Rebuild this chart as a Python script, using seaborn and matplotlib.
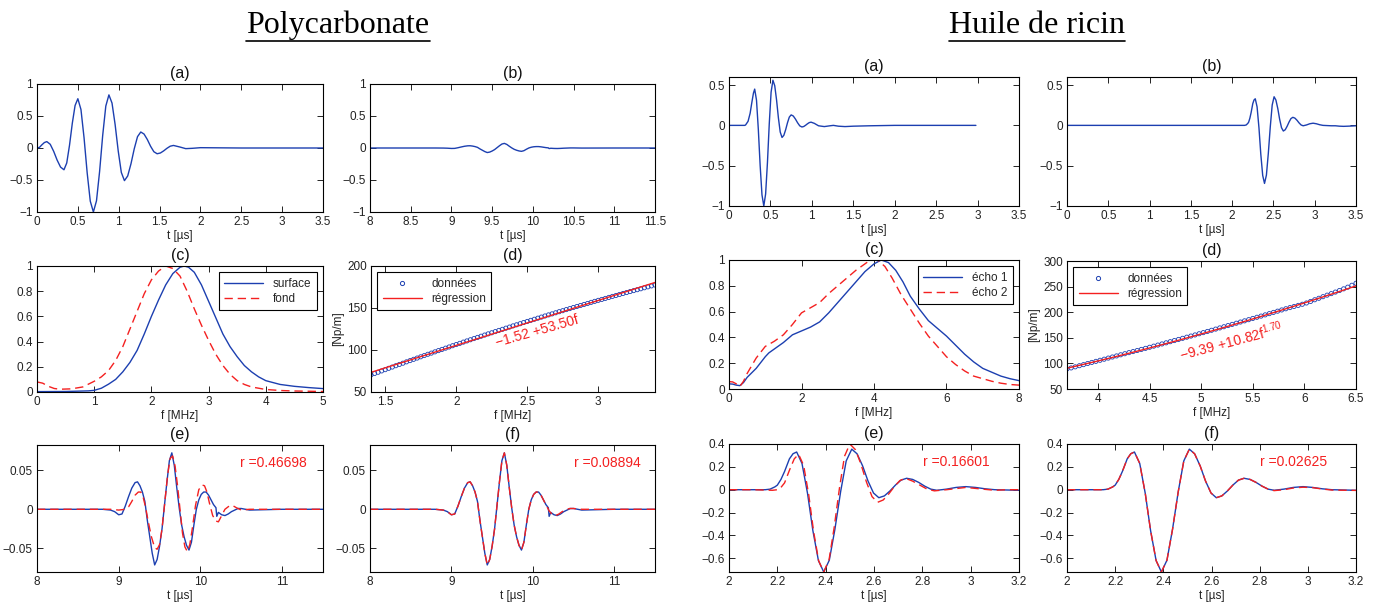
import numpy as np
import matplotlib
matplotlib.use('Agg')
import matplotlib.pyplot as plt
import seaborn as sns
from matplotlib.lines import Line2D
from matplotlib.ticker import FuncFormatter

# ---------------- data ----------------
# Polycarbonate (a): surface echo
poly_a_t = [0.0, 0.03, 0.06, 0.09, 0.12, 0.162, 0.204, 0.246, 0.288, 0.33, 0.364, 0.398, 0.432, 0.466, 0.50,
            0.538, 0.576, 0.614, 0.652, 0.69, 0.728, 0.766, 0.804, 0.842, 0.88, 0.918, 0.956, 0.994, 1.032,
            1.07, 1.11, 1.15, 1.19, 1.23, 1.27, 1.31, 1.35, 1.39, 1.43, 1.47, 1.51, 1.55, 1.59, 1.63, 1.67,
            1.75, 1.82, 1.9, 2.0, 2.5, 3.0, 3.5]
poly_a_y = [0.0, 0.01, 0.05, 0.085, 0.10, 0.058, -0.052, -0.188, -0.298, -0.34, -0.234, 0.044, 0.386, 0.664,
            0.77, 0.601, 0.158, -0.388, -0.831, -1.0, -0.825, -0.368, 0.198, 0.655, 0.83, 0.702, 0.367,
            -0.047, -0.382, -0.51, -0.437, -0.247, -0.013, 0.177, 0.25, 0.218, 0.133, 0.027, -0.058, -0.09,
            -0.078, -0.045, -0.005, 0.028, 0.04, 0.015, -0.01, -0.005, 0.005, 0.0, 0.0, 0.0]
# Polycarbonate bottom echo (b, e, f blue)
poly_b_t = [8.0, 8.5, 8.8, 8.9, 8.95, 9.0, 9.04, 9.08, 9.12, 9.16, 9.20, 9.23, 9.26, 9.29, 9.32, 9.35, 9.38,
            9.41, 9.44, 9.47, 9.50, 9.53, 9.56, 9.59, 9.62, 9.65, 9.68, 9.71, 9.74, 9.77, 9.80, 9.83, 9.86,
            9.89, 9.92, 9.95, 9.98, 10.01, 10.04, 10.07, 10.10, 10.13, 10.16, 10.19, 10.20, 10.22, 10.26,
            10.30, 10.34, 10.38, 10.42, 10.46, 10.50, 10.55, 10.60, 11.0, 11.5]
poly_b_y = [0.0, 0.0, 0.0, -0.001, -0.003, -0.007, -0.006, 0.004, 0.016, 0.027, 0.034, 0.035, 0.030, 0.022,
            0.010, -0.014, -0.035, -0.056, -0.071, -0.064, -0.047, -0.025, 0.005, 0.035, 0.062, 0.072, 0.056,
            0.028, 0.002, -0.020, -0.035, -0.046, -0.052, -0.042, -0.020, 0.000, 0.012, 0.019, 0.022, 0.022,
            0.018, 0.012, 0.006, 0.002, -0.009, -0.004, -0.007, -0.008, -0.006, -0.003, -0.001, 0.001, 0.001,
            0.000, -0.001, 0.0, 0.0]
# Polycarbonate (e): simple model (red dashed)
poly_e_t = [8.0, 8.9, 9.0, 9.08, 9.12, 9.16, 9.20, 9.24, 9.27, 9.30, 9.33, 9.36, 9.40, 9.44, 9.47, 9.50, 9.53,
            9.56, 9.60, 9.63, 9.66, 9.69, 9.72, 9.75, 9.78, 9.81, 9.84, 9.87, 9.90, 9.94, 9.98, 10.02, 10.05,
            10.08, 10.11, 10.15, 10.19, 10.22, 10.26, 10.30, 10.35, 10.39, 10.44, 10.50, 10.60, 11.5]
poly_e_y = [0.0, 0.0, -0.001, 0.0, 0.003, 0.010, 0.018, 0.022, 0.022, 0.015, 0.002, -0.015, -0.035, -0.049,
            -0.051, -0.045, -0.025, 0.005, 0.045, 0.065, 0.068, 0.055, 0.030, 0.0, -0.030, -0.048, -0.054,
            -0.045, -0.025, 0.005, 0.025, 0.031, 0.030, 0.022, 0.008, -0.008, -0.015, -0.016, -0.008, 0.0,
            0.004, 0.005, 0.002, -0.001, 0.0, 0.0]
# Polycarbonate (f): fitted model (red dashed)
poly_f_t = [8.0, 8.5, 8.8, 8.9, 8.95, 9.0, 9.04, 9.08, 9.12, 9.16, 9.20, 9.23, 9.26, 9.29, 9.32, 9.35, 9.38,
            9.41, 9.44, 9.47, 9.50, 9.53, 9.56, 9.59, 9.62, 9.65, 9.68, 9.71, 9.74, 9.77, 9.80, 9.83, 9.86,
            9.89, 9.92, 9.95, 9.98, 10.01, 10.04, 10.07, 10.10, 10.13, 10.16, 10.20, 10.24, 10.28, 10.32,
            10.36, 10.40, 10.45, 10.50, 10.60, 11.0, 11.5]
poly_f_y = [0.0, 0.0, 0.0, -0.001, -0.003, -0.007, -0.006, 0.004, 0.016, 0.027, 0.034, 0.035, 0.030, 0.022,
            0.010, -0.014, -0.035, -0.056, -0.071, -0.064, -0.047, -0.025, 0.005, 0.035, 0.062, 0.072, 0.056,
            0.028, 0.002, -0.020, -0.035, -0.046, -0.052, -0.042, -0.020, 0.000, 0.012, 0.019, 0.022, 0.022,
            0.018, 0.012, 0.006, -0.002, -0.007, -0.008, -0.006, -0.003, -0.001, 0.001, 0.001, 0.0, 0.0, 0.0]
# Polycarbonate (c): normalised spectra
poly_surf_f = [0.0, 0.5, 0.9, 1.0, 1.125, 1.25, 1.375, 1.5, 1.625, 1.75, 1.875, 2.0, 2.125, 2.25, 2.375, 2.5,
               2.575, 2.65, 2.75, 2.875, 3.0, 3.125, 3.25, 3.375, 3.5, 3.625, 3.75, 3.875, 4.0, 4.25, 4.5,
               4.75, 5.0]
poly_surf_a = [0.003, 0.004, 0.009, 0.013, 0.03, 0.062, 0.10, 0.16, 0.235, 0.33, 0.46, 0.60, 0.73, 0.85, 0.94,
               0.99, 1.0, 0.99, 0.95, 0.85, 0.72, 0.59, 0.46, 0.36, 0.28, 0.21, 0.16, 0.12, 0.09, 0.06, 0.045,
               0.035, 0.027]
poly_fond_f = [0.0, 0.1, 0.2, 0.3, 0.4, 0.6, 0.8, 1.0, 1.125, 1.25, 1.375, 1.5, 1.625, 1.75, 1.875, 2.0, 2.125,
               2.25, 2.375, 2.5, 2.625, 2.75, 2.875, 3.0, 3.125, 3.25, 3.375, 3.5, 3.625, 3.75, 4.0, 4.25,
               4.5, 5.0]
poly_fond_a = [0.08, 0.07, 0.045, 0.028, 0.022, 0.025, 0.04, 0.085, 0.12, 0.17, 0.25, 0.36, 0.50, 0.64, 0.78,
               0.89, 0.96, 1.0, 0.98, 0.92, 0.80, 0.66, 0.53, 0.41, 0.30, 0.21, 0.14, 0.09, 0.06, 0.04, 0.02,
               0.012, 0.008, 0.004]
# Polycarbonate (d): attenuation
poly_att_f = [1.400, 1.425, 1.450, 1.475, 1.500, 1.525, 1.550, 1.575, 1.600, 1.625, 1.650, 1.675, 1.700,
              1.725, 1.750, 1.775, 1.800, 1.825, 1.850, 1.875, 1.900, 1.925, 1.950, 1.975, 2.000, 2.025,
              2.050, 2.075, 2.100, 2.125, 2.150, 2.175, 2.200, 2.225, 2.250, 2.275, 2.300, 2.325, 2.350,
              2.375, 2.400, 2.425, 2.450, 2.475, 2.500, 2.525, 2.550, 2.575, 2.600, 2.625, 2.650, 2.675,
              2.700, 2.725, 2.750, 2.775, 2.800, 2.825, 2.850, 2.875, 2.900, 2.925, 2.950, 2.975, 3.000,
              3.025, 3.050, 3.075, 3.100, 3.125, 3.150, 3.175, 3.200, 3.225, 3.250, 3.275, 3.300, 3.325,
              3.350, 3.375, 3.400]
poly_att_a = [70.4, 72.0, 73.5, 75.1, 76.6, 78.2, 79.7, 81.3, 82.8, 84.3, 85.9, 87.4, 88.9, 90.4, 91.9, 93.4,
              94.9, 96.3, 97.8, 99.3, 100.7, 102.2, 103.6, 105.1, 106.5, 107.9, 109.4, 110.8, 112.2, 113.6,
              115.0, 116.4, 117.8, 119.2, 120.5, 121.9, 123.3, 124.6, 126.0, 127.3, 128.7, 130.0, 131.3,
              132.7, 134.0, 135.3, 136.6, 137.9, 139.2, 140.5, 141.8, 143.0, 144.3, 145.6, 146.8, 148.1,
              149.3, 150.6, 151.8, 153.0, 154.2, 155.4, 156.7, 157.9, 159.1, 160.2, 161.4, 162.6, 163.8,
              164.9, 166.1, 167.3, 168.4, 169.6, 170.7, 171.8, 172.9, 174.1, 175.2, 176.3, 177.4]
poly_reg_intercept, poly_reg_slope = -1.52, 53.50

# Huile de ricin (a): first echo
ric_a_t = [0.0, 0.15, 0.19, 0.20, 0.23, 0.255, 0.275, 0.295, 0.31, 0.332, 0.354, 0.376, 0.398, 0.42, 0.442,
           0.464, 0.486, 0.508, 0.53, 0.552, 0.574, 0.596, 0.618, 0.64, 0.662, 0.684, 0.706, 0.728, 0.75,
           0.776, 0.802, 0.828, 0.854, 0.88, 0.902, 0.924, 0.946, 0.968, 0.99, 1.03, 1.08, 1.15, 1.22, 1.26,
           1.32, 1.40, 1.50, 1.70, 2.0, 2.5, 2.98]
ric_a_y = [0.0, 0.0, 0.0, 0.005, 0.05, 0.15, 0.28, 0.40, 0.45, 0.312, -0.051, -0.499, -0.862, -1.0, -0.851,
           -0.461, 0.021, 0.411, 0.56, 0.492, 0.315, 0.095, -0.082, -0.15, -0.123, -0.053, 0.033, 0.103, 0.13,
           0.116, 0.078, 0.032, -0.006, -0.02, -0.014, 0.001, 0.019, 0.034, 0.04, 0.025, -0.005, -0.015,
           -0.005, 0.0, -0.01, -0.015, -0.01, -0.005, 0.0, 0.0, 0.0]
# Huile de ricin second echo (b, e, f blue)
ric_b_t = [0.0, 1.0, 2.0, 2.10, 2.15, 2.17, 2.19, 2.20, 2.215, 2.23, 2.25, 2.265, 2.28, 2.302, 2.325, 2.347,
           2.370, 2.392, 2.415, 2.438, 2.462, 2.485, 2.508, 2.530, 2.553, 2.575, 2.598, 2.62, 2.643, 2.666,
           2.689, 2.712, 2.735, 2.76, 2.785, 2.81, 2.835, 2.86, 2.90, 2.94, 2.98, 3.02, 3.06, 3.10, 3.20,
           3.25, 3.30, 3.35, 3.40, 3.45, 3.50]
ric_b_y = [0.0, 0.0, 0.0, 0.0, 0.0, 0.005, 0.025, 0.04, 0.09, 0.16, 0.27, 0.315, 0.33, 0.230, -0.033, -0.357,
           -0.620, -0.72, -0.617, -0.349, -0.016, 0.252, 0.355, 0.314, 0.208, 0.077, -0.029, -0.07, -0.054,
           -0.011, 0.041, 0.084, 0.10, 0.090, 0.064, 0.031, 0.005, -0.005, 0.005, 0.02, 0.027, 0.02, 0.008,
           0.0, -0.005, -0.005, -0.01, -0.012, -0.01, -0.008, -0.005]
# Huile de ricin (e): simple model (red dashed)
ric_e_t = [2.0, 2.1, 2.18, 2.20, 2.215, 2.23, 2.25, 2.27, 2.288, 2.309, 2.330, 2.350, 2.371, 2.392, 2.414,
           2.435, 2.457, 2.478, 2.50, 2.523, 2.546, 2.569, 2.592, 2.615, 2.638, 2.661, 2.684, 2.707, 2.73,
           2.76, 2.79, 2.82, 2.85, 2.90, 2.98, 3.05, 3.10, 3.15, 3.20]
ric_e_y = [0.0, 0.0, -0.005, 0.0, 0.02, 0.06, 0.17, 0.27, 0.31, 0.212, -0.046, -0.364, -0.622, -0.72, -0.613,
           -0.333, 0.013, 0.293, 0.40, 0.351, 0.224, 0.066, -0.061, -0.11, -0.090, -0.037, 0.027, 0.080,
           0.10, 0.075, 0.04, 0.005, -0.01, 0.0, 0.02, 0.005, -0.005, 0.0, 0.0]
# Huile de ricin (f): fitted model (red dashed)
ric_f_t = [2.0, 2.10, 2.15, 2.17, 2.19, 2.20, 2.215, 2.23, 2.25, 2.265, 2.28, 2.302, 2.325, 2.347, 2.370,
           2.392, 2.415, 2.438, 2.462, 2.485, 2.508, 2.530, 2.553, 2.575, 2.598, 2.62, 2.643, 2.666, 2.689,
           2.712, 2.735, 2.76, 2.785, 2.81, 2.835, 2.86, 2.90, 2.94, 2.98, 3.02, 3.06, 3.10, 3.20]
ric_f_y = [0.0, 0.0, 0.0, 0.005, 0.025, 0.04, 0.09, 0.16, 0.27, 0.315, 0.33, 0.230, -0.033, -0.357, -0.620,
           -0.72, -0.617, -0.349, -0.016, 0.252, 0.355, 0.314, 0.208, 0.077, -0.029, -0.07, -0.054, -0.011,
           0.041, 0.084, 0.10, 0.090, 0.064, 0.031, 0.005, -0.008, 0.0, 0.015, 0.022, 0.018, 0.006, -0.003,
           -0.006]
# Huile de ricin (c): spectra
ric_e1_f = [0.0, 0.1, 0.2, 0.3, 0.4, 0.5, 0.75, 1.0, 1.1, 1.25, 1.5, 1.75, 2.0, 2.25, 2.5, 2.75, 3.0, 3.25,
            3.5, 3.75, 4.0, 4.2, 4.4, 4.6, 4.8, 5.0, 5.25, 5.5, 5.75, 6.0, 6.25, 6.5, 6.75, 7.0, 7.25, 7.5,
            7.75, 8.0]
ric_e1_a = [0.04, 0.038, 0.03, 0.026, 0.05, 0.09, 0.16, 0.25, 0.28, 0.31, 0.36, 0.42, 0.45, 0.48, 0.52, 0.59,
            0.67, 0.75, 0.83, 0.91, 0.97, 1.0, 0.98, 0.92, 0.83, 0.72, 0.62, 0.53, 0.47, 0.41, 0.34, 0.27,
            0.21, 0.16, 0.13, 0.10, 0.08, 0.065]
ric_e2_f = [0.0, 0.1, 0.2, 0.3, 0.4, 0.5, 0.75, 1.0, 1.25, 1.5, 1.75, 2.0, 2.25, 2.5, 2.75, 3.0, 3.25, 3.5,
            3.75, 3.9, 4.1, 4.3, 4.5, 4.75, 5.0, 5.25, 5.5, 5.75, 6.0, 6.25, 6.5, 6.75, 7.0, 7.25, 7.5, 7.75,
            8.0]
ric_e2_a = [0.057, 0.055, 0.04, 0.02, 0.06, 0.12, 0.24, 0.33, 0.37, 0.42, 0.50, 0.59, 0.63, 0.67, 0.74, 0.80,
            0.86, 0.92, 0.97, 1.0, 1.0, 0.95, 0.86, 0.73, 0.62, 0.51, 0.41, 0.33, 0.25, 0.19, 0.14, 0.10,
            0.08, 0.06, 0.045, 0.035, 0.03]
# Huile de ricin (d): attenuation
ric_att_f = [3.70, 3.74, 3.78, 3.82, 3.86, 3.90, 3.94, 3.98, 4.02, 4.06, 4.10, 4.14, 4.18, 4.22, 4.26, 4.30,
             4.34, 4.38, 4.42, 4.46, 4.50, 4.54, 4.58, 4.62, 4.66, 4.70, 4.74, 4.78, 4.82, 4.86, 4.90, 4.94,
             4.98, 5.02, 5.06, 5.10, 5.14, 5.18, 5.22, 5.26, 5.30, 5.34, 5.38, 5.42, 5.46, 5.50, 5.54, 5.58,
             5.62, 5.66, 5.70, 5.74, 5.78, 5.82, 5.86, 5.90, 5.94, 5.98, 6.02, 6.06, 6.10, 6.14, 6.18, 6.22,
             6.26, 6.30, 6.34, 6.38, 6.42, 6.46, 6.50]
ric_att_a = [89.2, 91.2, 93.3, 95.5, 97.6, 99.8, 101.9, 104.0, 106.1, 108.2, 110.4, 112.5, 114.6, 116.8, 118.9,
             121.0, 123.1, 125.2, 127.3, 129.4, 131.5, 133.7, 135.8, 138.0, 140.2, 142.4, 144.6, 146.8, 149.0,
             151.2, 153.4, 155.6, 157.9, 160.1, 162.4, 164.7, 167.0, 169.3, 171.6, 173.9, 176.2, 178.5, 180.8,
             183.1, 185.4, 187.8, 190.1, 192.4, 194.8, 197.2, 199.6, 202.0, 204.4, 206.7, 209.0, 211.2, 213.3,
             215.5, 218.0, 221.0, 224.3, 227.2, 230.3, 233.3, 236.3, 239.3, 242.4, 245.6, 248.9, 252.6, 256.5]
ric_reg_a0, ric_reg_a1, ric_reg_n = -9.39, 10.82, 1.70

r_values = {'poly_e': 'r =0.46698', 'poly_f': 'r =0.08894', 'ric_e': 'r =0.16601', 'ric_f': 'r =0.02625'}

# ---------------- style ----------------
sns.set_theme(style='ticks')
plt.rcParams['font.family'] = ['Liberation Sans', 'DejaVu Sans']
plt.rcParams['mathtext.default'] = 'regular'
plt.rcParams['axes.unicode_minus'] = True

BLUE = '#1c3fb0'
RED = '#f42020'
DASH = (0, (6, 3.5))
TICK_FS = 8.5
LEG_FS = 8.5
W, H = 1379, 607
fig = plt.figure(figsize=(W / 100, H / 100), dpi=100)
fig.patch.set_facecolor('white')


def add_ax(l, t, r, b):
    return fig.add_axes([l / W, 1 - b / H, (r - l) / W, (b - t) / H])


def fmt(v, pos):
    return ('%g' % round(v, 6)).replace('-', '\u2212')


def style(ax, title, xlim, ylim, xticks, yticks, xlabel, ylabel=None):
    ax.set_xlim(*xlim)
    ax.set_ylim(*ylim)
    ax.set_xticks(xticks)
    ax.set_yticks(yticks)
    ax.xaxis.set_major_formatter(FuncFormatter(fmt))
    ax.yaxis.set_major_formatter(FuncFormatter(fmt))
    ax.tick_params(direction='in', top=True, right=True, length=4, width=0.6,
                   labelsize=TICK_FS, pad=3, labelcolor='#222222', color='black')
    for sp in ax.spines.values():
        sp.set_visible(True)
        sp.set_linewidth(0.8)
        sp.set_color('black')
    ax.set_title(title, fontsize=11.5, pad=4, color='#111111')
    ax.set_xlabel(xlabel, fontsize=8.5, labelpad=1, color='#222222')
    ax.set_ylabel(ylabel if ylabel else '', fontsize=8.5, labelpad=2, color='#222222')
    ax.set_facecolor('white')


def line(ax, x, y, color, dashed=False, label=None):
    kw = dict(x=x, y=y, ax=ax, color=color, lw=1.0, sort=False, estimator=None)
    if dashed:
        kw['linestyle'] = DASH
    if label:
        kw['label'] = label
    sns.lineplot(**kw)


def legend(ax, loc, handles, labels):
    lg = ax.legend(handles, labels, loc=loc, frameon=True, fancybox=False, edgecolor='black',
                   framealpha=1, fontsize=LEG_FS, handlelength=3.3, borderpad=0.45, labelspacing=0.25,
                   handletextpad=0.8, borderaxespad=0.55, scatterpoints=1, numpoints=1)
    lg.get_frame().set_linewidth(0.8)


tus = 't [\u00b5s]'
fmhz = 'f [MHz]'

# ---- Polycarbonate ----
ax = add_ax(37, 84, 323, 212)
line(ax, poly_a_t, poly_a_y, BLUE)
style(ax, '(a)', (0, 3.5), (-1, 1), np.arange(0, 3.51, 0.5), [-1, -0.5, 0, 0.5, 1], tus)

ax = add_ax(370, 84, 655, 212)
line(ax, poly_b_t, poly_b_y, BLUE)
style(ax, '(b)', (8, 11.5), (-1, 1), np.arange(8, 11.51, 0.5), [-1, -0.5, 0, 0.5, 1], tus)

ax = add_ax(37, 266, 323, 392)
line(ax, poly_surf_f, poly_surf_a, BLUE)
line(ax, poly_fond_f, poly_fond_a, RED, dashed=True)
style(ax, '(c)', (0, 5), (0, 1), [0, 1, 2, 3, 4, 5], np.arange(0, 1.01, 0.2), fmhz)
legend(ax, 'upper right',
       [Line2D([], [], color=BLUE, lw=1), Line2D([], [], color=RED, lw=1, linestyle=DASH)],
       ['surface', 'fond'])

ax = add_ax(371, 266, 655, 392)
sns.scatterplot(x=poly_att_f, y=poly_att_a, ax=ax, marker='o', s=9, facecolors='none',
                edgecolor=BLUE, linewidth=0.6)
pf = np.array(poly_att_f)
line(ax, pf[[0, -1]], poly_reg_intercept + poly_reg_slope * pf[[0, -1]], RED)
style(ax, '(d)', (1.4, 3.4), (50, 200), [1.5, 2, 2.5, 3], [50, 100, 150, 200], fmhz, '[Np/m]')
legend(ax, 'upper left',
       [Line2D([], [], color=BLUE, lw=0, marker='o', mfc='none', mec=BLUE, ms=3, mew=0.7),
        Line2D([], [], color=RED, lw=1)],
       ['donn\u00e9es', 'r\u00e9gression'])
ax.text(2.29, 103, '\u22121.52 +53.50f', color=RED, fontsize=10, rotation=16,
        rotation_mode='anchor', ha='left', va='baseline')

ax = add_ax(37, 445, 323, 572)
line(ax, poly_b_t, poly_b_y, BLUE)
line(ax, poly_e_t, poly_e_y, RED, dashed=True)
style(ax, '(e)', (8, 11.5), (-0.08, 0.082), [8, 9, 10, 11], [-0.05, 0, 0.05], tus)
ax.text(0.71, 0.86, r_values['poly_e'], transform=ax.transAxes, color=RED, fontsize=10, va='center')

ax = add_ax(370, 445, 655, 572)
line(ax, poly_b_t, poly_b_y, BLUE)
line(ax, poly_f_t, poly_f_y, RED, dashed=True)
style(ax, '(f)', (8, 11.5), (-0.08, 0.082), [8, 9, 10, 11], [-0.05, 0, 0.05], tus)
ax.text(0.716, 0.86, r_values['poly_f'], transform=ax.transAxes, color=RED, fontsize=10, va='center')

# ---- Huile de ricin ----
ax = add_ax(729, 77, 1019, 206)
line(ax, ric_a_t, ric_a_y, BLUE)
style(ax, '(a)', (0, 3.5), (-1, 0.6), np.arange(0, 3.51, 0.5), [-1, -0.5, 0, 0.5], tus)

ax = add_ax(1067, 77, 1356, 206)
line(ax, ric_b_t, ric_b_y, BLUE)
style(ax, '(b)', (0, 3.5), (-1, 0.6), np.arange(0, 3.51, 0.5), [-1, -0.5, 0, 0.5], tus)

ax = add_ax(729, 260, 1019, 389)
line(ax, ric_e1_f, ric_e1_a, BLUE)
line(ax, ric_e2_f, ric_e2_a, RED, dashed=True)
style(ax, '(c)', (0, 8), (0, 1), [0, 2, 4, 6, 8], np.arange(0, 1.01, 0.2), fmhz)
legend(ax, 'upper right',
       [Line2D([], [], color=BLUE, lw=1), Line2D([], [], color=RED, lw=1, linestyle=DASH)],
       ['\u00e9cho 1', '\u00e9cho 2'])

ax = add_ax(1067, 261, 1356, 389)
sns.scatterplot(x=ric_att_f, y=ric_att_a, ax=ax, marker='o', s=9, facecolors='none',
                edgecolor=BLUE, linewidth=0.6)
rf = np.array(ric_att_f)
line(ax, rf, ric_reg_a0 + ric_reg_a1 * rf ** ric_reg_n, RED)
style(ax, '(d)', (3.7, 6.5), (50, 300), [4, 4.5, 5, 5.5, 6, 6.5], [50, 100, 150, 200, 250, 300], fmhz,
      '[Np/m]')
legend(ax, 'upper left',
       [Line2D([], [], color=BLUE, lw=0, marker='o', mfc='none', mec=BLUE, ms=3, mew=0.7),
        Line2D([], [], color=RED, lw=1)],
       ['donn\u00e9es', 'r\u00e9gression'])
ax.text(4.81, 104, r'$\mathregular{{-}9.39\ {+}10.82f^{1.70}}$', color=RED, fontsize=10, rotation=15,
        rotation_mode='anchor', ha='left', va='baseline')

ax = add_ax(729, 444, 1019, 572)
line(ax, ric_b_t, ric_b_y, BLUE)
line(ax, ric_e_t, ric_e_y, RED, dashed=True)
style(ax, '(e)', (2, 3.2), (-0.72, 0.4), np.arange(2, 3.21, 0.2), [-0.6, -0.4, -0.2, 0, 0.2, 0.4], tus)
ax.text(0.67, 0.86, r_values['ric_e'], transform=ax.transAxes, color=RED, fontsize=10, va='center')

ax = add_ax(1067, 444, 1356, 572)
line(ax, ric_b_t, ric_b_y, BLUE)
line(ax, ric_f_t, ric_f_y, RED, dashed=True)
style(ax, '(f)', (2, 3.2), (-0.72, 0.4), np.arange(2, 3.21, 0.2), [-0.6, -0.4, -0.2, 0, 0.2, 0.4], tus)
ax.text(0.668, 0.86, r_values['ric_f'], transform=ax.transAxes, color=RED, fontsize=10, va='center')

# ---- group titles (underlined) ----
titles = []
for txt, cx in [('Polycarbonate', 338), ('Huile de ricin', 1037)]:
    t = fig.text(cx / W, 1 - 33 / H, txt, ha='center', va='baseline', fontsize=23,
                 family=['Liberation Serif', 'DejaVu Serif'], color='black')
    titles.append(t)
fig.canvas.draw()
renderer = fig.canvas.get_renderer()
for t in titles:
    bb = t.get_window_extent(renderer)
    yline = 1 - 41 / H
    fig.add_artist(Line2D([bb.x0 / W, bb.x1 / W], [yline, yline], color='black', lw=1.2,
                          transform=fig.transFigure))

fig.savefig('out.png', dpi=100, facecolor='white')
